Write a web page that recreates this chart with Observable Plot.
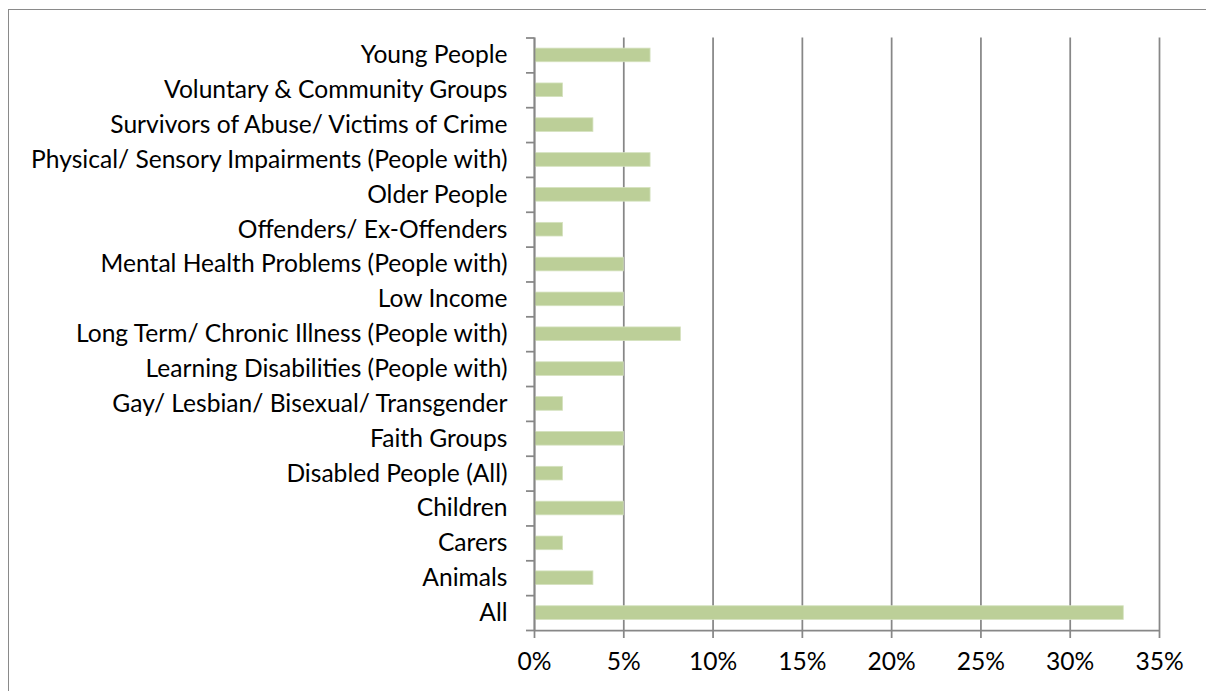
<!DOCTYPE html>
<html>
<head>
<meta charset="utf-8">
<script src="https://cdn.jsdelivr.net/npm/d3@7"></script>
<script src="https://cdn.jsdelivr.net/npm/@observablehq/plot@0.6"></script>
<style>
  html, body { margin: 0; padding: 0; background: #fff; }
  #wrap { position: relative; width: 1206px; height: 691px; overflow: hidden; }
  #frame { position: absolute; left: 7.5px; top: 8.5px; width: 1250px; height: 750px;
           border-left: 1.5px solid #8a8a8a; border-top: 1.5px solid #8a8a8a; box-sizing: border-box; }
  #chart { position: absolute; left: 0; top: 0; }
</style>
</head>
<body>
<div id="wrap"><div id="frame"></div><div id="chart"></div></div>
<script>
// Categories from bottom (first) to top (last), as Excel plots them
const categories = [
  "All",
  "Animals",
  "Carers",
  "Children",
  "Disabled People (All)",
  "Faith Groups",
  "Gay/ Lesbian/ Bisexual/ Transgender",
  "Learning Disabilities (People with)",
  "Long Term/ Chronic Illness (People with)",
  "Low Income",
  "Mental Health Problems (People with)",
  "Offenders/ Ex-Offenders",
  "Older People",
  "Physical/ Sensory Impairments (People with)",
  "Survivors of Abuse/ Victims of Crime",
  "Voluntary & Community Groups",
  "Young People"
];
// Percent of respondents
const values = [33.0, 3.3, 1.6, 5.0, 1.6, 5.0, 1.6, 5.0, 8.2, 5.0, 5.0, 1.6, 6.5, 6.5, 3.3, 1.6, 6.5];
const xTicks = [0, 5, 10, 15, 20, 25, 30, 35];

const data = categories.map((c, i) => ({category: c, value: values[i], i}));
const centers = categories.map((c, i) => i + 0.5);
const bounds = d3.range(0, categories.length + 1);

const font = "Lato, Carlito, Calibri, sans-serif";
const grid = "#878787";
const fs = 24.6;

const chart = Plot.plot({
  width: 1206,
  height: 691,
  marginLeft: 534,
  marginRight: 47,
  marginTop: 37.5,
  marginBottom: 61,
  style: {fontFamily: font, fontSize: fs + "px", color: "#000", background: "transparent"},
  x: {domain: [0, 35]},
  y: {domain: [0, categories.length]},
  marks: [
    Plot.gridX(xTicks, {stroke: grid, strokeOpacity: 1, strokeWidth: 1.75}),
    Plot.rectX(data, {x1: 0, x2: "value", y1: "i", y2: d => d.i + 1, insetTop: 10.6, insetBottom: 10.6,
      fill: "#bccf98", stroke: "#d5e2bf", strokeWidth: 0.8}),
    Plot.ruleY([0], {stroke: grid, strokeWidth: 1.75}),
    Plot.ruleX([0], {stroke: grid, strokeWidth: 1.75}),
    Plot.axisX(xTicks, {tickSize: 8, tickPadding: 14, stroke: grid, strokeWidth: 1.75, strokeOpacity: 1,
      tickFormat: d => d + "%", fontSize: fs, fill: "#000", label: null}),
    Plot.axisY(bounds, {tickSize: 8, stroke: grid, strokeWidth: 1.75, strokeOpacity: 1, tickFormat: () => "", label: null}),
    Plot.axisY(centers, {tickSize: 0, tickPadding: 27, tickFormat: d => categories[d - 0.5],
      fontSize: fs, fill: "#000", label: null})
  ]
});
document.getElementById("chart").appendChild(chart);
</script>
</body>
</html>
